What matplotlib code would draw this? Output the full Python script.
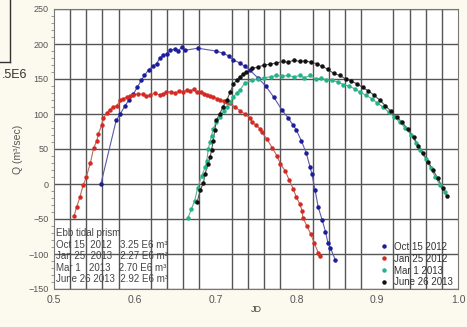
import matplotlib
matplotlib.use("Agg")
import matplotlib.pyplot as plt
from matplotlib.lines import Line2D
import numpy as np

# ---- data: discharge Q (m^3/sec) versus Julian-day fraction ----
oct15_jd = [0.558, 0.577, 0.582, 0.588, 0.593, 0.598, 0.603, 0.608, 0.612, 0.617, 0.622, 0.627,
            0.631, 0.635, 0.640, 0.644, 0.650, 0.654, 0.658, 0.662, 0.678, 0.700, 0.709, 0.716,
            0.722, 0.730, 0.736, 0.742, 0.752, 0.762, 0.772, 0.782, 0.790, 0.796, 0.800, 0.806,
            0.812, 0.817, 0.819, 0.823, 0.827, 0.832, 0.836, 0.839, 0.842, 0.848]
oct15_q = [0, 91, 100, 112, 120, 128, 138, 148, 155, 163, 168, 172,
           180, 184, 186, 191, 193, 190, 196, 191, 194, 190, 187, 183,
           177, 173, 168, 163, 152, 140, 124, 106, 94, 84, 77, 62,
           45, 24, 15, -8, -33, -52, -68, -84, -91, -108]

jan25_jd = [0.525, 0.528, 0.532, 0.536, 0.540, 0.545, 0.549, 0.553, 0.555, 0.559, 0.561, 0.565,
            0.569, 0.573, 0.578, 0.582, 0.586, 0.590, 0.594, 0.598, 0.604, 0.610, 0.614, 0.619,
            0.625, 0.631, 0.635, 0.639, 0.645, 0.650, 0.655, 0.660, 0.664, 0.668, 0.673, 0.677,
            0.682, 0.686, 0.689, 0.693, 0.697, 0.702, 0.706, 0.710, 0.714, 0.718, 0.724, 0.730,
            0.736, 0.743, 0.745, 0.750, 0.755, 0.757, 0.763, 0.770, 0.776, 0.780, 0.786, 0.791,
            0.796, 0.800, 0.804, 0.807, 0.808, 0.813, 0.818, 0.822, 0.827, 0.829]
jan25_q = [-45, -33, -19, -2, 10, 30, 51, 62, 72, 84, 94, 101,
           106, 110, 112, 120, 122, 124, 126, 127, 129, 128, 125, 127,
           130, 127, 129, 131, 132, 130, 133, 132, 134, 133, 135, 131,
           132, 129, 127, 126, 124, 122, 120, 118, 117, 115, 110, 105,
           100, 94, 88, 84, 79, 74, 65, 52, 40, 29, 19, 6,
           -7, -19, -28, -38, -48, -60, -72, -84, -98, -103]

mar1_jd = [0.666, 0.670, 0.674, 0.678, 0.683, 0.687, 0.689, 0.691, 0.693, 0.695, 0.697, 0.701,
           0.706, 0.710, 0.714, 0.718, 0.722, 0.726, 0.730, 0.736, 0.745, 0.752, 0.760, 0.768,
           0.775, 0.782, 0.790, 0.797, 0.804, 0.810, 0.817, 0.824, 0.830, 0.837, 0.844, 0.851,
           0.858, 0.865, 0.872, 0.879, 0.886, 0.893, 0.900, 0.907, 0.914, 0.921, 0.928, 0.935,
           0.942, 0.948, 0.953, 0.960, 0.966, 0.972, 0.978, 0.984]
mar1_q = [-48, -36, -24, -5, 12, 24, 33, 50, 60, 69, 79, 88,
          96, 104, 110, 117, 124, 130, 134, 144, 148, 150, 152, 153,
          155, 154, 155, 153, 155, 152, 155, 150, 151, 149, 148, 146,
          142, 140, 136, 131, 127, 122, 116, 110, 103, 96, 88, 80,
          70, 59, 48, 36, 23, 10, -2, -12]

jun26_jd = [0.677, 0.681, 0.685, 0.687, 0.691, 0.693, 0.695, 0.697, 0.699, 0.701, 0.705, 0.709,
            0.714, 0.718, 0.722, 0.726, 0.730, 0.734, 0.738, 0.745, 0.752, 0.760, 0.767, 0.775,
            0.783, 0.790, 0.797, 0.804, 0.811, 0.818, 0.825, 0.832, 0.839, 0.846, 0.854, 0.861,
            0.868, 0.875, 0.882, 0.889, 0.896, 0.903, 0.910, 0.917, 0.924, 0.931, 0.938, 0.945,
            0.951, 0.957, 0.963, 0.969, 0.975, 0.981, 0.986]
jun26_q = [-26, -9, 2, 15, 29, 38, 48, 62, 77, 91, 100, 110,
           120, 131, 143, 148, 153, 157, 160, 165, 167, 170, 171, 173,
           175, 174, 177, 175, 176, 174, 172, 168, 164, 158, 155, 150,
           147, 143, 138, 133, 127, 120, 112, 104, 96, 88, 78, 67,
           55, 44, 32, 20, 8, -5, -17]

series_labels = ["Oct 15 2012", "Jan 25 2012", "Mar 1 2013", "June 26 2013"]
series_colors = ["#1c1c9c", "#d42a24", "#22b488", "#111111"]
line_colors = ["#5a5aa8", "#b86a5e", "#6aa890", "#555555"]

prism_lines = ["Ebb tidal prism",
               "Oct 15  2012   3.25 E6 m³",
               "Jan 25  2013   2.27 E6 m³",
               "Mar 1   2013   2.70 E6 m³",
               "June 26 2013  2.92 E6 m³"]

plt.rcParams['font.family'] = ['Liberation Sans', 'DejaVu Sans']

W, H = 467, 327
fig = plt.figure(figsize=(W / 100, H / 100), dpi=100)
fig.patch.set_facecolor("#fcf9ee")

ax = fig.add_axes([54 / W, 1 - 289 / H, (458 - 54) / W, (289 - 9) / H])
ax.set_facecolor("white")

data = [(oct15_jd, oct15_q), (jan25_jd, jan25_q), (mar1_jd, mar1_q), (jun26_jd, jun26_q)]
for (xs, ys), c, lc in zip(data, series_colors, line_colors):
    ax.plot(xs, ys, color=lc, lw=0.8, zorder=3)
    ax.plot(xs, ys, ls="none", marker="o", ms=2.2, mfc=c, mec=c, zorder=4)

ax.set_xlim(0.5, 1.0)
ax.set_ylim(-150, 250)
ax.set_xticks(np.arange(0.5, 1.001, 0.1))
ax.set_xticklabels(["0.5", "0.6", "0.7", "0.8", "0.9", "1.0"])
ax.set_yticks(np.arange(-150, 251, 50))
ax.set_xticks(np.arange(0.5, 1.001, 0.02), minor=True)
ax.set_yticks(np.arange(-150, 251, 10), minor=True)
ax.grid(True, which="major", axis="y", color="#555555", lw=1.0, zorder=1)
ax.grid(True, which="minor", axis="x", color="#555555", lw=1.0, zorder=1)
ax.tick_params(axis="both", which="major", length=0, colors="#555555")
ax.tick_params(axis="x", which="major", labelsize=7.5, pad=4)
ax.tick_params(axis="y", which="major", labelsize=6.5, pad=4)
ax.tick_params(axis="y", which="minor", length=2, color="#888888")
ax.tick_params(axis="x", which="minor", length=0)
for s in ax.spines.values():
    s.set_color("#777777")
    s.set_linewidth(0.8)

ax.set_xlabel("JD", fontsize=6.5, color="#444444", labelpad=0)
ax.set_ylabel("Q (m³/sec)", fontsize=7.5, color="#555555", labelpad=4)

# ebb tidal prism note
ax.text(0.503, -63, "\n".join(prism_lines), fontsize=7, color="#444444",
        va="top", ha="left", linespacing=1.2, zorder=5)

# series legend
handles = [Line2D([], [], ls="none", marker="o", ms=2.2, mfc=c, mec=c) for c in series_colors]
leg = ax.legend(handles, series_labels, loc="lower right", bbox_to_anchor=(1.0, -0.012),
                fontsize=7, frameon=False, handletextpad=0.5, labelspacing=0.2,
                handlelength=1.2, borderaxespad=0.1)
for t in leg.get_texts():
    t.set_color("#333333")

# fragments of neighbouring panel at the left edge
fig.add_artist(Line2D([10 / W, 10 / W], [1.0, 1 - 62 / H], color="#333333", lw=1.0))
fig.add_artist(Line2D([0, 10 / W], [1 - 62 / H, 1 - 62 / H], color="#333333", lw=1.0))
fig.text(2 / W, 1 - 75 / H, ".5E6", fontsize=9, color="#333333", va="center", ha="left")

fig.savefig("out.png", dpi=100, facecolor=fig.get_facecolor())
